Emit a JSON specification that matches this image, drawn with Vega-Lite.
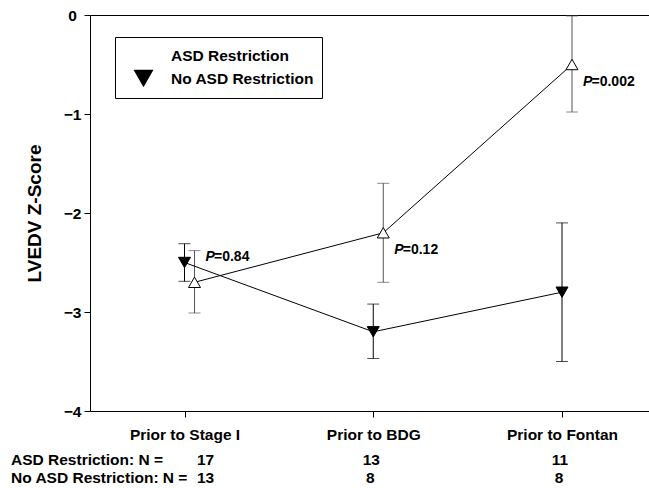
{
  "$schema": "https://vega.github.io/schema/vega-lite/v6.json",
  "width": 559,
  "height": 396,
  "autosize": {"type": "none"},
  "padding": {"left": 90, "top": 15, "right": 0, "bottom": 77},
  "background": "white",
  "config": {
    "view": {"stroke": null},
    "font": "Liberation Sans",
    "axis": {
      "domainColor": "black", "tickColor": "black", "labelColor": "black", "titleColor": "black",
      "labelFont": "Liberation Sans", "labelFontWeight": "bold", "labelFontSize": 15.5,
      "titleFont": "Liberation Sans", "titleFontWeight": "bold",
      "grid": false, "domainWidth": 1, "tickWidth": 1
    },
    "legend": {
      "title": null, "orient": "none", "legendX": 25, "legendY": 22,
      "strokeColor": "black", "fillColor": "white", "padding": 8, "rowPadding": 0,
      "symbolSize": 400, "symbolOffset": 10, "labelOffset": 17,
      "symbolStrokeColor": "black", "symbolStrokeWidth": 1,
      "labelFont": "Liberation Sans", "labelFontWeight": "bold", "labelFontSize": 15.5, "labelColor": "black"
    },
    "text": {"font": "Liberation Sans", "fontWeight": "bold", "color": "black", "baseline": "alphabetic"}
  },
  "data": {
    "values": [
      {"stage": "Prior to Stage I", "group": "ASD Restriction", "mean": -2.7, "lower": -3.01, "upper": -2.38, "n": 17, "p": "=0.84"},
      {"stage": "Prior to BDG", "group": "ASD Restriction", "mean": -2.2, "lower": -2.7, "upper": -1.7, "n": 13, "p": "=0.12"},
      {"stage": "Prior to Fontan", "group": "ASD Restriction", "mean": -0.5, "lower": -0.98, "upper": -0.01, "n": 11, "p": "=0.002"},
      {"stage": "Prior to Stage I", "group": "No ASD Restriction", "mean": -2.5, "lower": -2.69, "upper": -2.31, "n": 13},
      {"stage": "Prior to BDG", "group": "No ASD Restriction", "mean": -3.2, "lower": -3.47, "upper": -2.92, "n": 8},
      {"stage": "Prior to Fontan", "group": "No ASD Restriction", "mean": -2.8, "lower": -3.5, "upper": -2.1, "n": 8}
    ]
  },
  "encoding": {
    "x": {
      "field": "stage", "type": "nominal",
      "scale": {"type": "point", "domain": ["Prior to Stage I", "Prior to BDG", "Prior to Fontan"], "padding": 0.4808, "align": 0.5207},
      "axis": {"title": null, "labelAngle": 0, "tickSize": 6, "labelPadding": 10, "labelBaseline": "top"}
    }
  },
  "layer": [
    {
      "mark": {"type": "rule", "strokeWidth": 1},
      "encoding": {
        "xOffset": {"field": "group", "type": "nominal", "scale": {"type": "point", "domain": ["No ASD Restriction", "ASD Restriction"], "range": [0, 10], "padding": 0}},
        "y": {
          "field": "lower", "type": "quantitative",
          "scale": {"domain": [-4, 0], "nice": false, "zero": false},
          "axis": {
            "values": [-4, -3, -2, -1, 0], "format": "d", "tickSize": 6, "labelAlign": "center", "labelPadding": 12,
            "title": "LVEDV Z-Score", "titleFontSize": 19, "titlePadding": 19,
            "grid": true, "gridColor": "black", "gridWidth": 1,
            "gridOpacity": {"condition": {"test": "datum.value === 0", "value": 1}, "value": 0}
          }
        },
        "y2": {"field": "upper"},
        "color": {"field": "group", "type": "nominal", "scale": {"domain": ["No ASD Restriction", "ASD Restriction"], "range": ["#000000", "#555555"]}, "legend": null}
      }
    },
    {
      "mark": {"type": "tick", "size": 12, "thickness": 1, "orient": "horizontal"},
      "encoding": {
        "xOffset": {"field": "group", "type": "nominal", "scale": {"type": "point", "domain": ["No ASD Restriction", "ASD Restriction"], "range": [0, 10], "padding": 0}},
        "y": {"field": "upper", "type": "quantitative"},
        "color": {"field": "group", "type": "nominal", "legend": null}
      }
    },
    {
      "mark": {"type": "tick", "size": 12, "thickness": 1, "orient": "horizontal"},
      "encoding": {
        "xOffset": {"field": "group", "type": "nominal", "scale": {"type": "point", "domain": ["No ASD Restriction", "ASD Restriction"], "range": [0, 10], "padding": 0}},
        "y": {"field": "lower", "type": "quantitative"},
        "color": {"field": "group", "type": "nominal", "legend": null}
      }
    },
    {
      "mark": {"type": "line", "color": "black", "strokeWidth": 1},
      "encoding": {
        "xOffset": {"field": "group", "type": "nominal", "scale": {"type": "point", "domain": ["No ASD Restriction", "ASD Restriction"], "range": [0, 10], "padding": 0}},
        "y": {"field": "mean", "type": "quantitative"},
        "detail": {"field": "group"}
      }
    },
    {
      "mark": {"type": "point", "size": 144, "filled": true, "stroke": "black", "strokeWidth": 1, "opacity": 1},
      "encoding": {
        "xOffset": {"field": "group", "type": "nominal", "scale": {"type": "point", "domain": ["No ASD Restriction", "ASD Restriction"], "range": [0, 10], "padding": 0}},
        "y": {"field": "mean", "type": "quantitative"},
        "fill": {
          "field": "group", "type": "nominal",
          "scale": {"domain": ["ASD Restriction", "No ASD Restriction"], "range": ["white", "black"]},
          "legend": {
            "labelExpr": "datum.label + '   '",
            "encode": {
              "symbols": {
                "shape": {"value": {"expr": "datum.value === 'ASD Restriction' ? 'M-1.8,-0.05H-0.42V0.05H-1.8ZM0.42,-0.05H1.8V0.05H0.42ZM0,-0.75L0.65,0.38L-0.65,0.38ZM0,-0.58L-0.5,0.29L0.5,0.29Z' : 'M-1.8,-0.05H1.8V0.05H-1.8ZM0,0.69L-0.6,-0.35L0.6,-0.35Z'"}},
                "fill": {"value": "black"},
                "stroke": {"value": "transparent"},
                "strokeWidth": {"value": 0},
                "opacity": {"value": 1}
              }
            }
          }
        },
        "shape": {
          "field": "group", "type": "nominal",
          "scale": {"domain": ["ASD Restriction", "No ASD Restriction"], "range": ["triangle-up", "triangle-down"]},
          "legend": {
            "labelExpr": "datum.label + '   '",
            "encode": {
              "symbols": {
                "shape": {"value": {"expr": "datum.value === 'ASD Restriction' ? 'M-1.8,-0.05H-0.42V0.05H-1.8ZM0.42,-0.05H1.8V0.05H0.42ZM0,-0.75L0.65,0.38L-0.65,0.38ZM0,-0.58L-0.5,0.29L0.5,0.29Z' : 'M-1.8,-0.05H1.8V0.05H-1.8ZM0,0.69L-0.6,-0.35L0.6,-0.35Z'"}},
                "fill": {"value": "black"},
                "stroke": {"value": "transparent"},
                "strokeWidth": {"value": 0},
                "opacity": {"value": 1}
              }
            }
          }
        }
      }
    },
    {
      "transform": [{"filter": "datum.stage === 'Prior to Stage I' && datum.p"}],
      "mark": {"type": "text", "fontStyle": "italic", "fontSize": 14, "align": "left", "dx": 21, "dy": -21},
      "encoding": {"y": {"field": "mean", "type": "quantitative"}, "text": {"value": "P"}}
    },
    {
      "transform": [{"filter": "datum.stage === 'Prior to Stage I' && datum.p"}],
      "mark": {"type": "text", "fontSize": 14, "align": "left", "dx": 29.5, "dy": -21},
      "encoding": {"y": {"field": "mean", "type": "quantitative"}, "text": {"field": "p"}}
    },
    {
      "transform": [{"filter": "datum.stage !== 'Prior to Stage I' && datum.p"}],
      "mark": {"type": "text", "fontStyle": "italic", "fontSize": 14, "align": "left", "dx": 21, "dy": 21},
      "encoding": {"y": {"field": "mean", "type": "quantitative"}, "text": {"value": "P"}}
    },
    {
      "transform": [{"filter": "datum.stage !== 'Prior to Stage I' && datum.p"}],
      "mark": {"type": "text", "fontSize": 14, "align": "left", "dx": 29.5, "dy": 21},
      "encoding": {"y": {"field": "mean", "type": "quantitative"}, "text": {"field": "p"}}
    },
    {
      "transform": [{"filter": "datum.stage === 'Prior to Stage I' && datum.group === 'ASD Restriction'"}],
      "mark": {"type": "text", "fontSize": 15.5, "align": "center", "dx": 21, "dy": 54},
      "encoding": {"y": {"datum": -4, "type": "quantitative"}, "text": {"field": "n"}}
    },
    {
      "transform": [{"filter": "datum.stage !== 'Prior to Stage I' && datum.group === 'ASD Restriction'"}],
      "mark": {"type": "text", "fontSize": 15.5, "align": "center", "dx": -2, "dy": 54},
      "encoding": {"y": {"datum": -4, "type": "quantitative"}, "text": {"field": "n"}}
    },
    {
      "transform": [{"filter": "datum.stage === 'Prior to Stage I' && datum.group === 'No ASD Restriction'"}],
      "mark": {"type": "text", "fontSize": 15.5, "align": "center", "dx": 21, "dy": 71.5},
      "encoding": {"y": {"datum": -4, "type": "quantitative"}, "text": {"field": "n"}}
    },
    {
      "transform": [{"filter": "datum.stage !== 'Prior to Stage I' && datum.group === 'No ASD Restriction'"}],
      "mark": {"type": "text", "fontSize": 15.5, "align": "center", "dx": -3, "dy": 71.5},
      "encoding": {"y": {"datum": -4, "type": "quantitative"}, "text": {"field": "n"}}
    },
    {
      "data": {"values": [{"label": "ASD Restriction: N ="}]},
      "mark": {"type": "text", "fontSize": 15.5, "align": "left", "dx": -173.5, "dy": 54},
      "encoding": {"x": {"datum": "Prior to Stage I", "type": "nominal"}, "y": {"datum": -4, "type": "quantitative"}, "text": {"field": "label"}}
    },
    {
      "data": {"values": [{"label": "No ASD Restriction: N ="}]},
      "mark": {"type": "text", "fontSize": 15.5, "align": "left", "dx": -173.5, "dy": 71.5},
      "encoding": {"x": {"datum": "Prior to Stage I", "type": "nominal"}, "y": {"datum": -4, "type": "quantitative"}, "text": {"field": "label"}}
    }
  ]
}
